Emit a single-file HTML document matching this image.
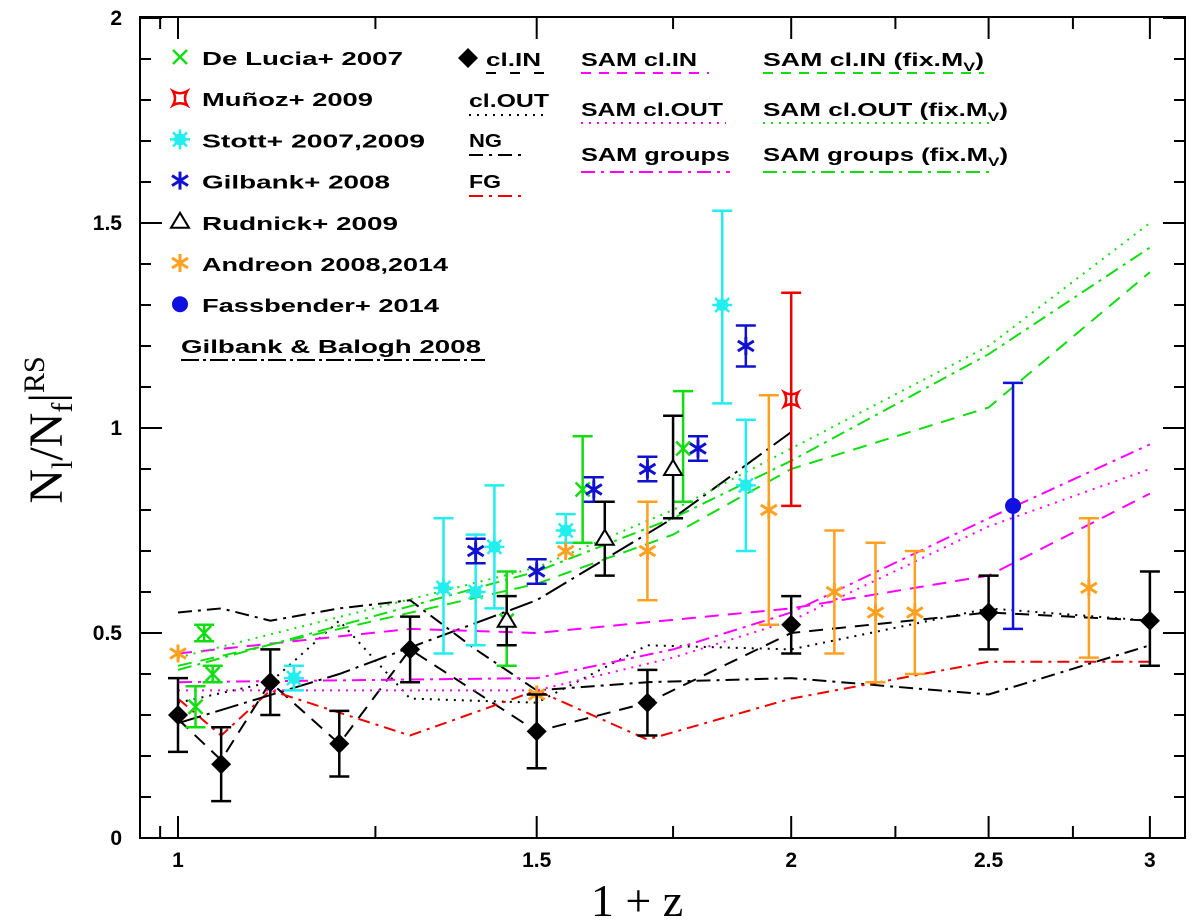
<!DOCTYPE html>
<html><head><meta charset="utf-8"><style>
html,body{margin:0;padding:0;background:#fff;}
svg{display:block;font-family:"Liberation Sans",sans-serif;}
.lg{font-weight:bold;font-size:18px;fill:#000;}
</style></head><body>
<svg id="chart" width="1200" height="923" viewBox="0 0 1200 923">
<rect x="140" y="17" width="1045" height="821" fill="none" stroke="#000" stroke-width="2"/>
<g id="ticks"></g>
<g id="lines"></g>
<g id="points"></g>
<g id="legend"></g>
<text x="637" y="916" font-family="Liberation Serif,serif" font-size="46" text-anchor="middle">1 + z</text>
<text transform="translate(62,430) rotate(-90)" font-family="Liberation Serif,serif" font-size="48" text-anchor="middle">N<tspan font-size="30" dy="10">l</tspan><tspan dy="-10">/N</tspan><tspan font-size="30" dy="10">f</tspan><tspan dy="-10">|</tspan><tspan font-size="30" dy="-18">RS</tspan></text>
</svg>
<script>
const NS="http://www.w3.org/2000/svg";
const xTickVals=[1,1.5,2,2.5,3];
const xTickLabels=["1","1.5","2","2.5","3"];
const xMinorVals=[0.98,1.25,1.75,2.25,2.75];
const yTickVals=[0,0.5,1,1.5,2];
const yTickLabels=["0","0.5","1","1.5","2"];
// observed data: [x, y, errLow, errHigh]
const clIN=[[1.0,0.30,0.21,0.39],[1.05,0.18,0.09,0.27],[1.11,0.38,0.30,0.46],[1.2,0.23,0.15,0.31],[1.3,0.46,0.38,0.54],[1.5,0.26,0.17,0.35],[1.7,0.33,0.25,0.41],[2.0,0.52,0.45,0.59],[2.5,0.55,0.46,0.64],[3.0,0.53,0.42,0.65]];
const deLucia=[[1.02,0.32,0.27,0.37],[1.03,0.50,0.48,0.52],[1.04,0.40,0.38,0.42],[1.45,0.53,0.42,0.65],[1.58,0.85,0.72,0.98],[1.77,0.95,0.82,1.09]];
const munoz=[[2.0,1.07,0.81,1.33]];
const stott=[[1.14,0.39,0.36,0.42],[1.35,0.61,0.45,0.78],[1.4,0.60,0.47,0.74],[1.43,0.71,0.56,0.86],[1.55,0.75,0.72,0.79],[1.85,1.30,1.06,1.53],[1.9,0.86,0.70,1.02]];
const gilbank=[[1.4,0.70,0.67,0.73],[1.5,0.65,0.62,0.68],[1.6,0.85,0.82,0.88],[1.7,0.90,0.87,0.93],[1.8,0.95,0.92,0.98],[1.9,1.20,1.15,1.25]];
const rudnick=[[1.45,0.53,0.47,0.59],[1.62,0.73,0.64,0.82],[1.75,0.90,0.78,1.03]];
const andreon=[[1.0,0.45,0.44,0.46],[1.5,0.35,0.34,0.36],[1.55,0.70,0.69,0.71],[1.7,0.70,0.58,0.82],[1.95,0.80,0.52,1.08],[2.1,0.60,0.45,0.75],[2.2,0.55,0.38,0.72],[2.3,0.55,0.40,0.70],[2.8,0.61,0.44,0.78]];
const fassbender=[[2.57,0.81,0.51,1.11]];
// model lines
const lnClIN=[[1,0.29],[1.05,0.19],[1.11,0.38],[1.2,0.23],[1.3,0.46],[1.5,0.26],[1.7,0.33],[2,0.5],[2.5,0.55],[3,0.53]];
const lnClOUT=[[1,0.33],[1.11,0.38],[1.2,0.53],[1.3,0.34],[1.5,0.33],[1.7,0.47],[2,0.46],[2.5,0.56],[3,0.53]];
const lnNG=[[1,0.55],[1.05,0.56],[1.11,0.53],[1.2,0.56],[1.3,0.58],[1.4,0.46],[1.5,0.36],[1.7,0.38],[2,0.39],[2.5,0.35],[3,0.47]];
const lnFG=[[1,0.34],[1.05,0.25],[1.11,0.36],[1.3,0.25],[1.5,0.36],[1.7,0.24],[2,0.34],[2.5,0.43],[3,0.43]];
const lnGB=[[1,0.28],[1.2,0.40],[1.5,0.58],[1.75,0.78],[2,0.99]];
const samIN=[[1,0.45],[1.3,0.51],[1.5,0.50],[2,0.56],[2.5,0.64],[3,0.84]];
const samOUT=[[1,0.36],[1.5,0.36],[1.75,0.44],[2,0.53],[2.5,0.76],[3,0.90]];
const samGR=[[1,0.38],[1.5,0.39],[1.75,0.46],[2,0.55],[2.5,0.78],[3,0.96]];
const fixIN=[[1,0.42],[1.5,0.62],[1.75,0.74],[2,0.90],[2.5,1.05],[3,1.38]];
const fixOUT=[[1,0.44],[1.5,0.66],[1.75,0.80],[2,0.95],[2.5,1.20],[3,1.50]];
const fixGR=[[1,0.41],[1.5,0.65],[1.75,0.78],[2,0.92],[2.5,1.18],[3,1.44]];

const X=v=>178+Math.log10(v)*2037;
const Y=v=>838-v*410;
function mk(tag,attrs,parent){const e=document.createElementNS(NS,tag);for(const k in attrs)e.setAttribute(k,attrs[k]);parent.appendChild(e);return e;}
const T=document.getElementById('ticks');
xTickVals.forEach((v,i)=>{
 const t=mk('path',{d:`M${X(v)},838v-22M${X(v)},17v22`,stroke:'#000','stroke-width':2},T);
 
 
 const l=mk('text',{x:X(v),y:867,'text-anchor':'middle','font-size':21,'font-weight':'bold'},T);l.textContent=xTickLabels[i];
 
 
});
xMinorVals.forEach(v=>{const t=mk('path',{d:`M${X(v)},838v-12M${X(v)},17v12`,stroke:'#000','stroke-width':2},T);
 
 });
for(let k=0;k<=20;k++){const v=k/10;const len=(k%5==0)?22:11;
 const t=mk('path',{d:`M140,${Y(v)}h${len}M1185,${Y(v)}h${-len}`,stroke:'#000','stroke-width':2},T);
 
 }
yTickVals.forEach((v,i)=>{const l=mk('text',{x:122,y:Y(v)+7,'text-anchor':'end','font-size':21,'font-weight':'bold'},T);l.textContent=yTickLabels[i];
 
 });

const L=document.getElementById('lines');
function line(data,color,dash,name){const p=mk('polyline',{points:data.map(d=>X(d[0])+','+Y(d[1])).join(' '),fill:'none',stroke:color,'stroke-width':2,'stroke-dasharray':dash},L);
 
 }
const DASH='14 9',DOT='2 6',DD='14 6 3 6';
line(lnClIN,'#000',DASH,'cl-in-line');
line(lnClOUT,'#000',DOT,'cl-out-line');
line(lnNG,'#000',DD,'ng-line');
line(lnFG,'#e00','12 6 3 6','fg-line');
line(lnGB,'#000','24 6 3 6','gilbank-balogh-line');
line(samIN,'#f0f',DASH,'sam-cl-in-line');
line(samOUT,'#f0f',DOT,'sam-cl-out-line');
line(samGR,'#f0f',DD,'sam-groups-line');
line(fixIN,'#1d1',DASH,'sam-fix-cl-in-line');
line(fixOUT,'#1d1',DOT,'sam-fix-cl-out-line');
line(fixGR,'#1d1',DD,'sam-fix-groups-line');

const P=document.getElementById('points');
function marker(type,x,y,c,g){
 if(type==='diamond')mk('path',{d:`M${x},${y-10}l10,10l-10,10l-10,-10z`,fill:c},g);
 else if(type==='x')mk('path',{d:`M${x-7},${y-7}l14,14M${x+7},${y-7}l-14,14`,stroke:c,'stroke-width':2.5},g);
 else if(type==='star'){mk('path',{d:`M${x},${y-9}v18M${x-8},${y-5}l16,10M${x+8},${y-5}l-16,10`,stroke:c,'stroke-width':3},g);}
 else if(type==='snow'){mk('circle',{cx:x,cy:y,r:6,fill:c},g);mk('path',{d:`M${x},${y-10}v20M${x-10},${y}h20M${x-7},${y-7}l14,14M${x+7},${y-7}l-14,14`,stroke:c,'stroke-width':2.5},g);}
 else if(type==='tri')mk('path',{d:`M${x},${y-9}l9,15h-18z`,fill:'#fff',stroke:c,'stroke-width':2},g);
 else if(type==='quad')mk('path',{d:`M${x-7},${y-7}q7,4 14,0q-4,7 0,14q-7,-4 -14,0q4,-7 0,-14z`,fill:'none',stroke:c,'stroke-width':2.5},g);
 else if(type==='circ')mk('circle',{cx:x,cy:y,r:8,fill:c},g);
}
function series(data,type,color,name,cap){
 data.forEach(d=>{const g=mk('g',{},P);
  
  
  const x=X(d[0]);
  if(d[3]-d[2]>0.025){mk('path',{d:`M${x},${Y(d[2])}V${Y(d[3])}M${x-cap},${Y(d[2])}h${2*cap}M${x-cap},${Y(d[3])}h${2*cap}`,stroke:color,'stroke-width':2.5,fill:'none'},g);}
  marker(type,x,Y(d[1]),color,g);});
}
series(stott,'snow','#22eeee','stott',10);
series(deLucia,'x','#1d1','de-lucia',10);
series(andreon,'star','#ffa020','andreon',10);
series(gilbank,'star','#1010d0','gilbank',10);
series(rudnick,'tri','#000','rudnick',10);
series(munoz,'quad','#e00','munoz',10);
series(fassbender,'circ','#1010e0','fassbender',10);
series(clIN,'diamond','#000','cl-in',10);

const G=document.getElementById('legend');
function txt(g,x,y,w,s,sub){const t=mk('text',{x:x,y:y,class:'lg',textLength:w,lengthAdjust:'spacingAndGlyphs'},g);
 t.appendChild(document.createTextNode(s));
 if(sub){const a=mk('tspan',{'font-size':12,dy:5},t);a.textContent='V';const b=mk('tspan',{dy:-5},t);b.textContent=')';}
 return t;}
const lgL=[['x','#1d1','De Lucia+ 2007',201],['quad','#e00','Muñoz+ 2009',171],['snow','#22eeee','Stott+ 2007,2009',223],['star','#1010d0','Gilbank+ 2008',188],['tri','#000','Rudnick+ 2009',196],['star','#ffa020','Andreon 2008,2014',246],['circ','#1010e0','Fassbender+ 2014',237]];
lgL.forEach((e,i)=>{const y=65+i*41.2;const g=mk('g',{},G);
 
 
 marker(e[0],180,y-8,e[1],g);
 txt(g,202,y,e[3],e[2]);});
function lgLine(x,y,w,lx,lw,ly,text,color,dash,name,sub){const g=mk('g',{},G);
 
 
 txt(g,x,y,w,text,sub);
 mk('path',{d:`M${lx},${ly}h${lw}`,stroke:color,'stroke-width':2,'stroke-dasharray':dash},g);}
lgLine(181,353,300,181,304,360,'Gilbank & Balogh 2008','#000','18 4 3 4','legend-gilbank-balogh');
marker('diamond',468,58,'#000',G);
lgLine(486,66,55,486,67,73,'cl.IN','#000','10 14','legend-cl-in');
lgLine(469,107,80,469,80,115,'cl.OUT','#000',DOT,'legend-cl-out');
lgLine(469,147,33,469,58,155,'NG','#000',DD,'legend-ng');
lgLine(469,188,32,469,58,196,'FG','#e00',DD,'legend-fg');
lgLine(581,66,116,581,128,73,'SAM cl.IN','#f0f','10 8','legend-sam-cl-in');
lgLine(581,116,142,581,145,123,'SAM cl.OUT','#f0f',DOT,'legend-sam-cl-out');
lgLine(581,161,149,581,149,172,'SAM groups','#f0f',DD,'legend-sam-groups');
lgLine(763,66,221,763,221,73,'SAM cl.IN (fix.M','#1d1','10 8','legend-sam-fix-cl-in',true);
lgLine(763,116,245,763,232,123,'SAM cl.OUT (fix.M','#1d1',DOT,'legend-sam-fix-cl-out',true);
lgLine(763,161,245,763,232,172,'SAM groups (fix.M','#1d1',DD,'legend-sam-fix-groups',true);
</script>
</body></html>
